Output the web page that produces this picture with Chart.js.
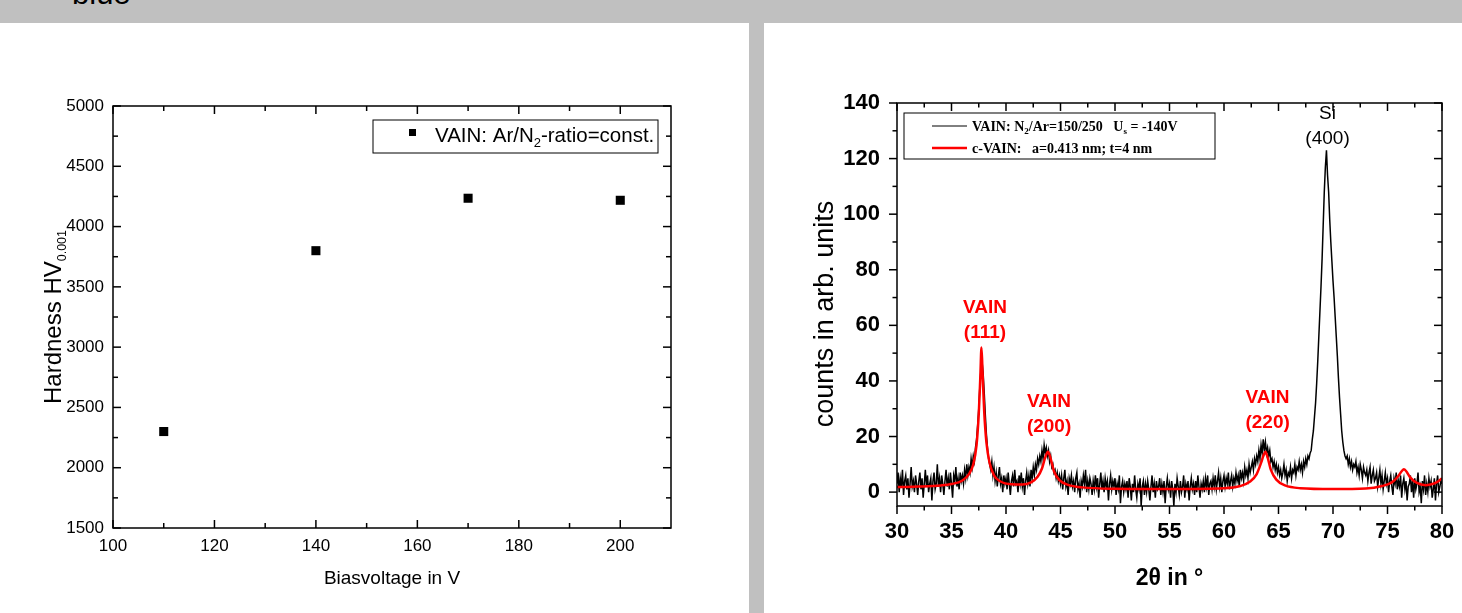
<!DOCTYPE html>
<html>
<head>
<meta charset="utf-8">
<script src="https://cdn.jsdelivr.net/npm/chart.js@4.4.0/dist/chart.umd.min.js"></script>
<style>
  body { margin: 0; width: 1462px; height: 613px; background: #c0c0c0; overflow: hidden; position: relative; font-family: 'Liberation Sans', Arial, sans-serif; }
  #cut { position: absolute; left: 72px; top: -22px; font-size: 31px; line-height: 31px; color: #000; }
  .panel { position: absolute; top: 23px; height: 590px; background: #fff; }
</style>
</head>
<body>
<div id="cut">blue</div>
<div class="panel" style="left:0;width:749px"><canvas id="hardness" width="749" height="590"></canvas></div>
<div class="panel" style="left:764px;width:698px"><canvas id="xrd" width="698" height="590"></canvas></div>
<script>
const SANS = "'Liberation Sans', Arial, sans-serif";
const SERIF = "'Liberation Serif', 'Times New Roman', serif";

// left panel: hardness against bias voltage
const biasVoltage = [110, 140, 170, 200];
const hardness = [2300, 3800, 4235, 4218];
const biasTicks = [100, 120, 140, 160, 180, 200];
const biasMinor = [110, 130, 150, 170, 190];
const hardnessTicks = [1500, 2000, 2500, 3000, 3500, 4000, 4500, 5000];
const hardnessMinor = [1750, 2250, 2750, 3250, 3750, 4250, 4750];

// right panel: XRD scan, one value every 0.1 deg from 30 deg
const scanStart = 30, scanStep = 0.1;
const scanCounts = [
  3, 7, 0, 5, 2, 8, -1, 4, 6, 1,
  5, -2, 3, 9, 2, 4, 0, 6, 3, -1,
  4, 7, 1, 5, -2, 3, 8, 2, 6, 0,
  3, 5, -3, 4, 7, 1, 3, 10, 2, 5,
  0, 6, 3, -1, 4, 8, 2, 5, 1, 7,
  3, -2, 6, 4, 9, 2, 5, 1, 7, 4,
  6, 3, 8, 5, 10, 6, 9, 7, 12, 9,
  13, 11, 16, 19, 24, 30, 38, 44, 47, 43,
  36, 28, 21, 16, 12, 10, 8, 11, 6, 9,
  4, 7, 2, 6, 9, 3, 5, 0, 6, 3,
  5, 1, 7, 3, -1, 4, 6, 2, 8, 3,
  4, 0, 6, 3, 7, 2, 5, -1, 4, 7,
  3, 6, 2, 8, 5, 9, 6, 10, 8, 12,
  10, 13, 11, 15, 12, 17, 14, 16, 13, 15,
  11, 13, 9, 10, 7, 8, 5, 7, 4, 6,
  3, 6, 1, 5, 8, 2, 4, -1, 5, 3,
  6, 2, 4, 0, 5, 7, 1, 3, -2, 4,
  2, 6, 3, 8, 0, 4, 1, 5, 3, -1,
  4, 1, 6, 2, 5, -2, 3, 7, 1, 4,
  0, 5, 2, 4, -3, 3, 6, 1, 4, 2,
  5, -1, 3, 1, 6, -4, 2, 4, 0, 3,
  1, 4, -2, 5, 2, -3, 3, 0, 6, 1,
  -2, 3, 1, 5, -5, 2, 4, -1, 3, 0,
  4, 1, -3, 2, 6, 0, 3, -2, 4, 1,
  2, 5, -1, 3, 0, 4, -4, 2, 5, 1,
  3, -2, 4, 1, -5, 3, 0, 5, 2, -1,
  4, 0, 2, 6, -2, 3, 1, 4, -3, 2,
  5, 1, 3, -1, 4, 0, 6, 2, -2, 3,
  1, 4, 0, 5, 2, 6, -1, 3, 4, 1,
  5, 2, 6, 1, 4, 7, 2, 5, 0, 4,
  6, 2, 5, 3, 7, 1, 4, 6, 2, 5,
  3, 7, 4, 6, 2, 8, 5, 7, 4, 9,
  6, 8, 5, 10, 7, 9, 11, 8, 12, 10,
  13, 11, 15, 12, 17, 14, 19, 15, 18, 14,
  16, 13, 15, 11, 12, 9, 11, 8, 10, 7,
  9, 6, 8, 5, 7, 10, 6, 8, 4, 7,
  6, 9, 5, 8, 7, 10, 6, 9, 8, 11,
  8, 10, 7, 11, 9, 12, 10, 13, 12, 14,
  15, 19, 22, 27, 32, 39, 47, 56, 65, 74,
  84, 96, 108, 117, 123, 114, 108, 98, 90, 83,
  76, 70, 63, 56, 49, 41, 34, 28, 22, 18,
  15, 13, 12, 13, 10, 12, 9, 11, 8, 10,
  9, 11, 7, 9, 6, 10, 8, 5, 9, 7,
  6, 8, 4, 7, 9, 3, 6, 8, 4, 5,
  7, 2, 5, 8, 3, 6, 1, 4, 7, 3,
  5, 0, 4, 6, 2, -1, 5, 3, 7, 1,
  4, 2, 6, -2, 3, 5, 1, 4, -3, 2,
  3, 6, 0, 4, -2, 5, 1, 3, 7, 0,
  2, -4, 4, 1, 6, -1, 3, 0, 5, 2,
  4, -2, 1, 5, -3, 3, 6, 0, 2, 4,
  3
];
// fitted c-VAIN pattern
const fitAngle = [30, 32, 34, 35, 36, 36.6, 37, 37.3, 37.5, 37.65, 37.75, 37.85, 38, 38.2, 38.5, 38.9, 39.5, 40.5, 41.5, 42.3,
  42.9, 43.3, 43.6, 43.85, 44.1, 44.4, 44.9, 45.7, 47, 50, 55, 60, 61.5, 62.4, 63, 63.4, 63.65, 63.8, 64, 64.3,
  64.8, 65.6, 67, 70, 73, 74.5, 75.4, 76, 76.3, 76.5, 76.7, 77.1, 77.7, 78.5, 79.2, 79.7, 80];
const fitCounts = [1.8, 2, 2.4, 2.9, 4.2, 6.5, 10, 17, 28, 42, 52, 43, 29, 18, 10.5, 6, 3.8, 2.8, 2.7, 3.5,
  5.5, 8.5, 12.5, 14.5, 12, 7.5, 4.3, 2.6, 1.7, 1.2, 1.1, 1.4, 2.2, 3.8, 6.5, 10.5, 13.5, 14.5, 12.5, 8,
  4.5, 2.4, 1.4, 1.1, 1.3, 2.2, 3.5, 5.8, 7.5, 8.2, 7.6, 5.2, 3.3, 2.5, 3, 4, 5];
const angleTicks = [30, 35, 40, 45, 50, 55, 60, 65, 70, 75, 80];
const angleMinor = [32.5, 37.5, 42.5, 47.5, 52.5, 57.5, 62.5, 67.5, 72.5, 77.5];
const countTicks = [0, 20, 40, 60, 80, 100, 120, 140];
const countMinor = [10, 30, 50, 70, 90, 110, 130];

const peakLabels = [
  { lines: ['VAIN', '(111)'], x: 38.07, y: 66.5, color: '#ff0000', weight: 'bold' },
  { lines: ['VAIN', '(200)'], x: 43.95, y: 32.4, color: '#ff0000', weight: 'bold' },
  { lines: ['VAIN', '(220)'], x: 64.0, y: 33.8, color: '#ff0000', weight: 'bold' },
  { lines: ['Si', '(400)'], x: 69.5, y: 136, color: '#000', weight: 'normal' }
];

function drawRich(ctx, x, y, parts) {
  parts.forEach(p => {
    ctx.font = p.font;
    ctx.fillText(p.text, x, y + (p.dy || 0));
    x += ctx.measureText(p.text).width;
  });
  return x;
}
function richWidth(ctx, parts) {
  let w = 0;
  parts.forEach(p => { ctx.font = p.font; w += ctx.measureText(p.text).width; });
  return w;
}

// box with tick marks; dir 1 = inward, -1 = outward for bottom / left
function framePlugin(spec) {
  return {
    id: 'frame',
    afterDatasetsDraw(chart) {
      const { ctx, chartArea: a, scales } = chart;
      ctx.save();
      ctx.strokeStyle = '#000';
      ctx.lineWidth = spec.lineWidth;
      ctx.strokeRect(a.left, a.top, a.right - a.left, a.bottom - a.top);
      const line = (x1, y1, x2, y2) => { ctx.beginPath(); ctx.moveTo(x1, y1); ctx.lineTo(x2, y2); ctx.stroke(); };
      const xs = spec.xMajor.map(v => [v, spec.major]).concat(spec.xMinor.map(v => [v, spec.minor]));
      xs.forEach(([v, len]) => {
        const px = scales.x.getPixelForValue(v);
        line(px, a.bottom, px, a.bottom - spec.bottomDir * len);
        line(px, a.top, px, a.top + len);
      });
      const ys = spec.yMajor.map(v => [v, spec.major]).concat(spec.yMinor.map(v => [v, spec.minor]));
      ys.forEach(([v, len]) => {
        const py = scales.y.getPixelForValue(v);
        line(a.left, py, a.left + spec.leftDir * len, py);
        line(a.right, py, a.right - len, py);
      });
      ctx.restore();
    }
  };
}

const hardnessDecor = {
  id: 'hardnessDecor',
  afterDraw(chart) {
    const { ctx, chartArea: a } = chart;
    ctx.save();
    ctx.fillStyle = '#000';
    ctx.textAlign = 'center';
    ctx.font = '19px ' + SANS;
    ctx.fillText('Biasvoltage in V', (a.left + a.right) / 2, 561);

    const yTitle = [
      { text: 'Hardness HV', font: '24px ' + SANS },
      { text: '0.001', font: '12.5px ' + SANS, dy: 5 }
    ];
    ctx.textAlign = 'left';
    ctx.translate(61, (a.top + a.bottom) / 2);
    ctx.rotate(-Math.PI / 2);
    drawRich(ctx, -richWidth(ctx, yTitle) / 2, 0, yTitle);
    ctx.restore();

    // legend
    ctx.save();
    const bx = a.right - 298, by = a.top + 14;
    ctx.strokeStyle = '#000';
    ctx.lineWidth = 1;
    ctx.strokeRect(bx, by, 285, 33);
    ctx.fillStyle = '#000';
    ctx.fillRect(bx + 36, by + 9, 7, 7);
    drawRich(ctx, bx + 62, by + 22, [
      { text: 'VAIN: Ar/N', font: '20.5px ' + SANS },
      { text: '2', font: '13px ' + SANS, dy: 5 },
      { text: '-ratio=const.', font: '20.5px ' + SANS }
    ]);
    ctx.restore();
  }
};

const xrdDecor = {
  id: 'xrdDecor',
  afterDraw(chart) {
    const { ctx, chartArea: a, scales } = chart;
    ctx.save();
    ctx.fillStyle = '#000';
    ctx.textAlign = 'center';
    ctx.font = 'bold 23px ' + SANS;
    ctx.fillText('2\u03b8 in \u00b0', (a.left + a.right) / 2, 562);
    ctx.font = '27px ' + SANS;
    ctx.translate(69, 291);
    ctx.rotate(-Math.PI / 2);
    ctx.fillText('counts in arb. units', 0, 0);
    ctx.restore();

    // peak labels
    ctx.save();
    ctx.textAlign = 'center';
    ctx.textBaseline = 'middle';
    peakLabels.forEach(p => {
      ctx.fillStyle = p.color;
      ctx.font = p.weight + ' 19px ' + SANS;
      const px = scales.x.getPixelForValue(p.x);
      const py = scales.y.getPixelForValue(p.y);
      p.lines.forEach((t, i) => ctx.fillText(t, px, py + i * 25));
    });
    ctx.restore();

    // legend
    ctx.save();
    const bx = a.left + 7, by = a.top + 10;
    ctx.strokeStyle = '#000';
    ctx.lineWidth = 1;
    ctx.strokeRect(bx, by, 311, 46);
    ctx.beginPath();
    ctx.moveTo(bx + 28, by + 13); ctx.lineTo(bx + 63, by + 13);
    ctx.stroke();
    ctx.strokeStyle = '#ff0000';
    ctx.lineWidth = 2.5;
    ctx.beginPath();
    ctx.moveTo(bx + 28, by + 35); ctx.lineTo(bx + 63, by + 35);
    ctx.stroke();
    ctx.fillStyle = '#000';
    const f = 'bold 14px ' + SERIF, fs = 'bold 9px ' + SERIF;
    drawRich(ctx, bx + 68, by + 18, [
      { text: 'VAIN: N', font: f },
      { text: '2', font: fs, dy: 3 },
      { text: '/Ar=150/250   U', font: f },
      { text: 's', font: fs, dy: 3 },
      { text: ' = -140V', font: f }
    ]);
    drawRich(ctx, bx + 68, by + 40, [{ text: 'c-VAIN:   a=0.413 nm; t=4 nm', font: f }]);
    ctx.restore();
  }
};

const plain = v => String(v);

new Chart(document.getElementById('hardness'), {
  type: 'scatter',
  data: {
    datasets: [{
      data: biasVoltage.map((v, i) => ({ x: v, y: hardness[i] })),
      pointStyle: 'rect',
      pointRadius: 6.4,
      backgroundColor: '#000',
      borderWidth: 0
    }]
  },
  options: {
    animation: false,
    responsive: false,
    layout: { padding: { top: 83, right: 78, left: 0, bottom: 0 } },
    plugins: { legend: { display: false }, tooltip: { enabled: false } },
    scales: {
      x: {
        type: 'linear', min: 100, max: 210,
        grid: { display: false, drawTicks: false }, border: { display: false },
        afterBuildTicks: s => { s.ticks = biasTicks.map(v => ({ value: v })); },
        afterFit: s => { s.height = 85; },
        ticks: { color: '#000', font: { family: SANS, size: 17 }, padding: 8, maxRotation: 0, callback: plain }
      },
      y: {
        min: 1500, max: 5000,
        grid: { display: false, drawTicks: false }, border: { display: false },
        afterBuildTicks: s => { s.ticks = hardnessTicks.map(v => ({ value: v })); },
        afterFit: s => { s.width = 113; },
        ticks: { color: '#000', font: { family: SANS, size: 17 }, padding: 9, callback: plain }
      }
    }
  },
  plugins: [framePlugin({ lineWidth: 1.5, major: 8, minor: 5, bottomDir: 1, leftDir: 1,
    xMajor: biasTicks, xMinor: biasMinor, yMajor: hardnessTicks, yMinor: hardnessMinor }), hardnessDecor]
});

new Chart(document.getElementById('xrd'), {
  type: 'line',
  data: {
    datasets: [{
      data: fitAngle.map((v, i) => ({ x: v, y: fitCounts[i] })),
      borderColor: '#ff0000',
      borderWidth: 2.5,
      pointRadius: 0,
      cubicInterpolationMode: 'monotone',
      fill: false
    }, {
      data: scanCounts.map((c, i) => ({ x: +(scanStart + i * scanStep).toFixed(2), y: c })),
      borderColor: '#000',
      borderWidth: 1.5,
      pointRadius: 0,
      tension: 0,
      fill: false
    }]
  },
  options: {
    animation: false,
    responsive: false,
    layout: { padding: { top: 80, right: 20, left: 0, bottom: 0 } },
    plugins: { legend: { display: false }, tooltip: { enabled: false } },
    scales: {
      x: {
        type: 'linear', min: 30, max: 80,
        grid: { display: false, drawTicks: false }, border: { display: false },
        afterBuildTicks: s => { s.ticks = angleTicks.map(v => ({ value: v })); },
        afterFit: s => { s.height = 107; s.paddingLeft = 0; s.paddingRight = 0; },
        ticks: { color: '#000', font: { family: SANS, size: 22, weight: 'bold' }, padding: 13, maxRotation: 0, callback: plain }
      },
      y: {
        type: 'linear', min: -5, max: 140,
        grid: { display: false, drawTicks: false }, border: { display: false },
        afterBuildTicks: s => { s.ticks = countTicks.map(v => ({ value: v })); },
        afterFit: s => { s.width = 133; s.paddingTop = 0; s.paddingBottom = 0; },
        ticks: { color: '#000', font: { family: SANS, size: 22, weight: 'bold' }, padding: 17, callback: plain }
      }
    }
  },
  plugins: [framePlugin({ lineWidth: 1.5, major: 8, minor: 4.5, bottomDir: -1, leftDir: -1,
    xMajor: angleTicks, xMinor: angleMinor, yMajor: countTicks, yMinor: countMinor }), xrdDecor]
});
</script>
</body>
</html>
